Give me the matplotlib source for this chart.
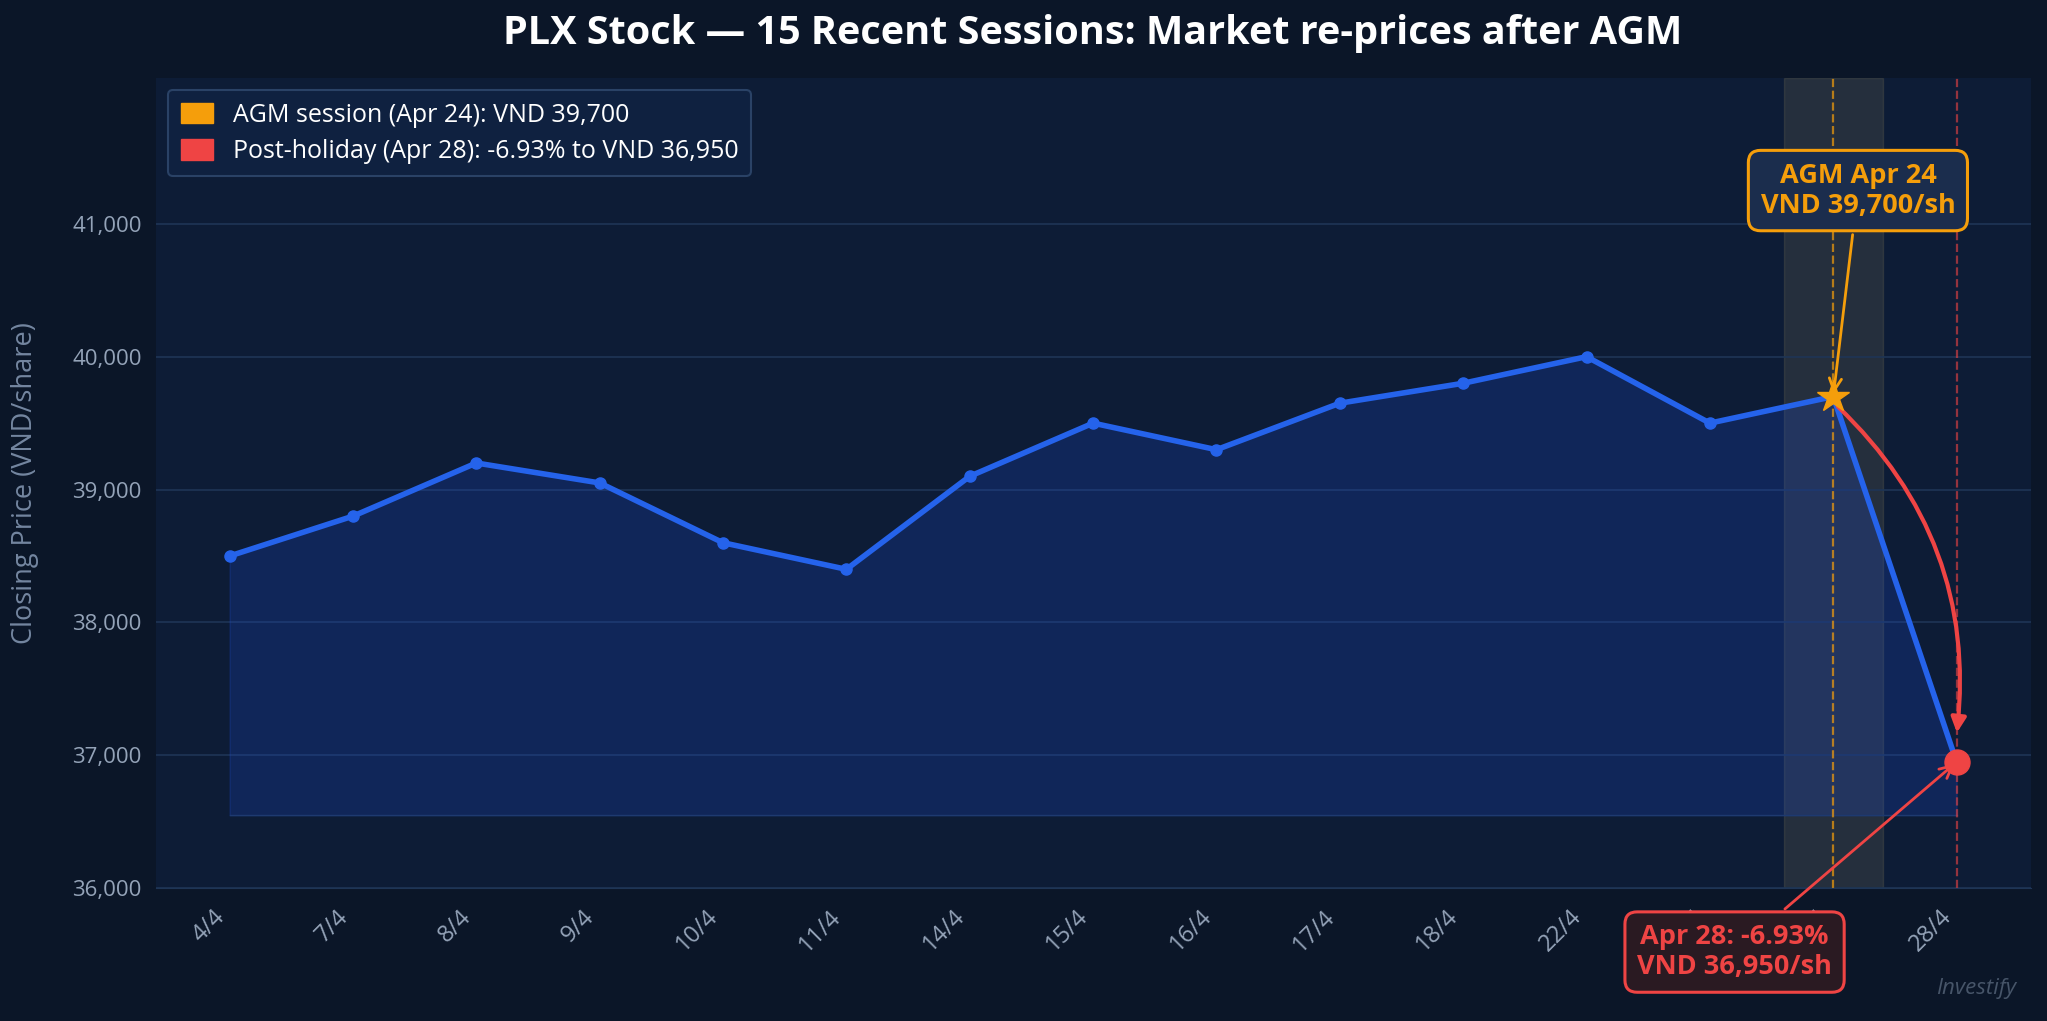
import numpy as np
import matplotlib
matplotlib.use("Agg")
import matplotlib.pyplot as plt
from matplotlib.patches import Patch
from matplotlib.ticker import FuncFormatter

plt.rcParams['font.family'] = ['Open Sans', 'DejaVu Sans']

# session dates and closing prices (VND/share)
dates = ["4/4", "7/4", "8/4", "9/4", "10/4", "11/4", "14/4", "15/4",
         "16/4", "17/4", "18/4", "22/4", "23/4", "24/4", "28/4"]
prices = [38500, 38800, 39200, 39050, 38600, 38400, 39100, 39500,
          39300, 39650, 39800, 40000, 39500, 39700, 36950]
agm_idx = 13
post_idx = 14

bg = "#0b1628"
ax_bg = "#0d1c36"
blue = "#2563eb"
orange = "#f59e0b"
red = "#ef4444"
txt = "#94a3b8"

x = np.arange(len(dates))

fig = plt.figure(figsize=(20.47, 10.21), dpi=100, facecolor=bg)
ax = fig.add_axes([0.076, 0.130, 0.916, 0.794])
ax.set_facecolor(ax_bg)

base = min(prices) - 400
ax.fill_between(x, prices, base, color="#1d4ed8", alpha=0.22, zorder=1)
ax.axhline(base, xmin=(0 + 0.6) / 15.2, xmax=(14 + 0.6) / 15.2, color="#1e3a70", lw=1, zorder=1)

ax.axvspan(agm_idx - 0.4, agm_idx + 0.4, color="#b8a86a", alpha=0.14, zorder=0.5)
ax.axvline(agm_idx, color=orange, ls="--", lw=1.6, alpha=0.7, zorder=2)
ax.axvline(post_idx, color=red, ls="--", lw=1.6, alpha=0.6, zorder=2)

ax.plot(x, prices, color=blue, lw=4, marker="o", ms=8, zorder=4)
ax.plot(x[agm_idx], prices[agm_idx], marker="*", color=orange, ms=24, zorder=6, ls="none")
ax.plot(x[post_idx], prices[post_idx], marker="o", color=red, ms=18, zorder=6, ls="none")

# curved drop arrow
ax.annotate("", xy=(post_idx, prices[post_idx] + 200), xytext=(agm_idx + 0.02, prices[agm_idx] - 60),
            arrowprops=dict(arrowstyle="-|>", color=red, lw=3, mutation_scale=22,
                            connectionstyle="arc3,rad=-0.25"), zorder=5)

ax.annotate("AGM Apr 24\nVND 39,700/sh", xy=(agm_idx, prices[agm_idx]), xytext=(agm_idx + 0.2, 41250),
            ha="center", va="center", fontsize=19.5, fontweight="bold", color=orange,
            bbox=dict(boxstyle="round,pad=0.45", fc="#1b2d4d", ec=orange, lw=2.2),
            arrowprops=dict(arrowstyle="->", color=orange, lw=2, mutation_scale=22), zorder=7)

ax.annotate("Apr 28: -6.93%\nVND 36,950/sh", xy=(post_idx, prices[post_idx]), xytext=(12.2, 35520),
            ha="center", va="center", fontsize=19.5, fontweight="bold", color=red,
            bbox=dict(boxstyle="round,pad=0.45", fc="#2a1a22", ec=red, lw=2.2),
            arrowprops=dict(arrowstyle="->", color=red, lw=2, mutation_scale=22),
            annotation_clip=False, zorder=7)

ax.set_xlim(-0.6, 14.6)
ax.set_ylim(36000, 42100)
ax.set_yticks([36000, 37000, 38000, 39000, 40000, 41000])
ax.yaxis.set_major_formatter(FuncFormatter(lambda v, p: f"{int(v):,}"))
ax.set_xticks(x)
ax.set_xticklabels(dates, rotation=45, ha="right")
ax.tick_params(axis="both", colors=txt, labelsize=16, length=0, pad=10)
ax.tick_params(axis="x", labelsize=17, pad=12)
ax.grid(axis="y", color="#1e3556", lw=1.2)
ax.set_axisbelow(True)
for s in ax.spines.values():
    s.set_visible(False)
ax.spines["bottom"].set_visible(True)
ax.spines["bottom"].set_color("#1e3556")

ax.set_ylabel("Closing Price (VND/share)", color="#7486a0", fontsize=19.5, labelpad=14)
ax.yaxis.set_label_coords(-0.062, 0.5)

ax.set_title("PLX Stock \u2014 15 Recent Sessions: Market re-prices after AGM",
             color="white", fontsize=28.5, fontweight="bold", pad=24)

handles = [Patch(color=orange, label="AGM session (Apr 24): VND 39,700"),
           Patch(color=red, label="Post-holiday (Apr 28): -6.93% to VND 36,950")]
leg = ax.legend(handles=handles, loc="upper left", fontsize=18, facecolor="#0f2140",
                edgecolor="#2a4266", labelcolor="white", framealpha=1,
                handlelength=1.3, handleheight=0.9, borderpad=0.5, labelspacing=0.45)
leg.get_frame().set_linewidth(1.5)

fig.text(0.985, 0.022, "Investify", color="#475569", fontsize=16, style="italic", ha="right", va="bottom")

fig.savefig("out.png", dpi=100, facecolor=bg)
